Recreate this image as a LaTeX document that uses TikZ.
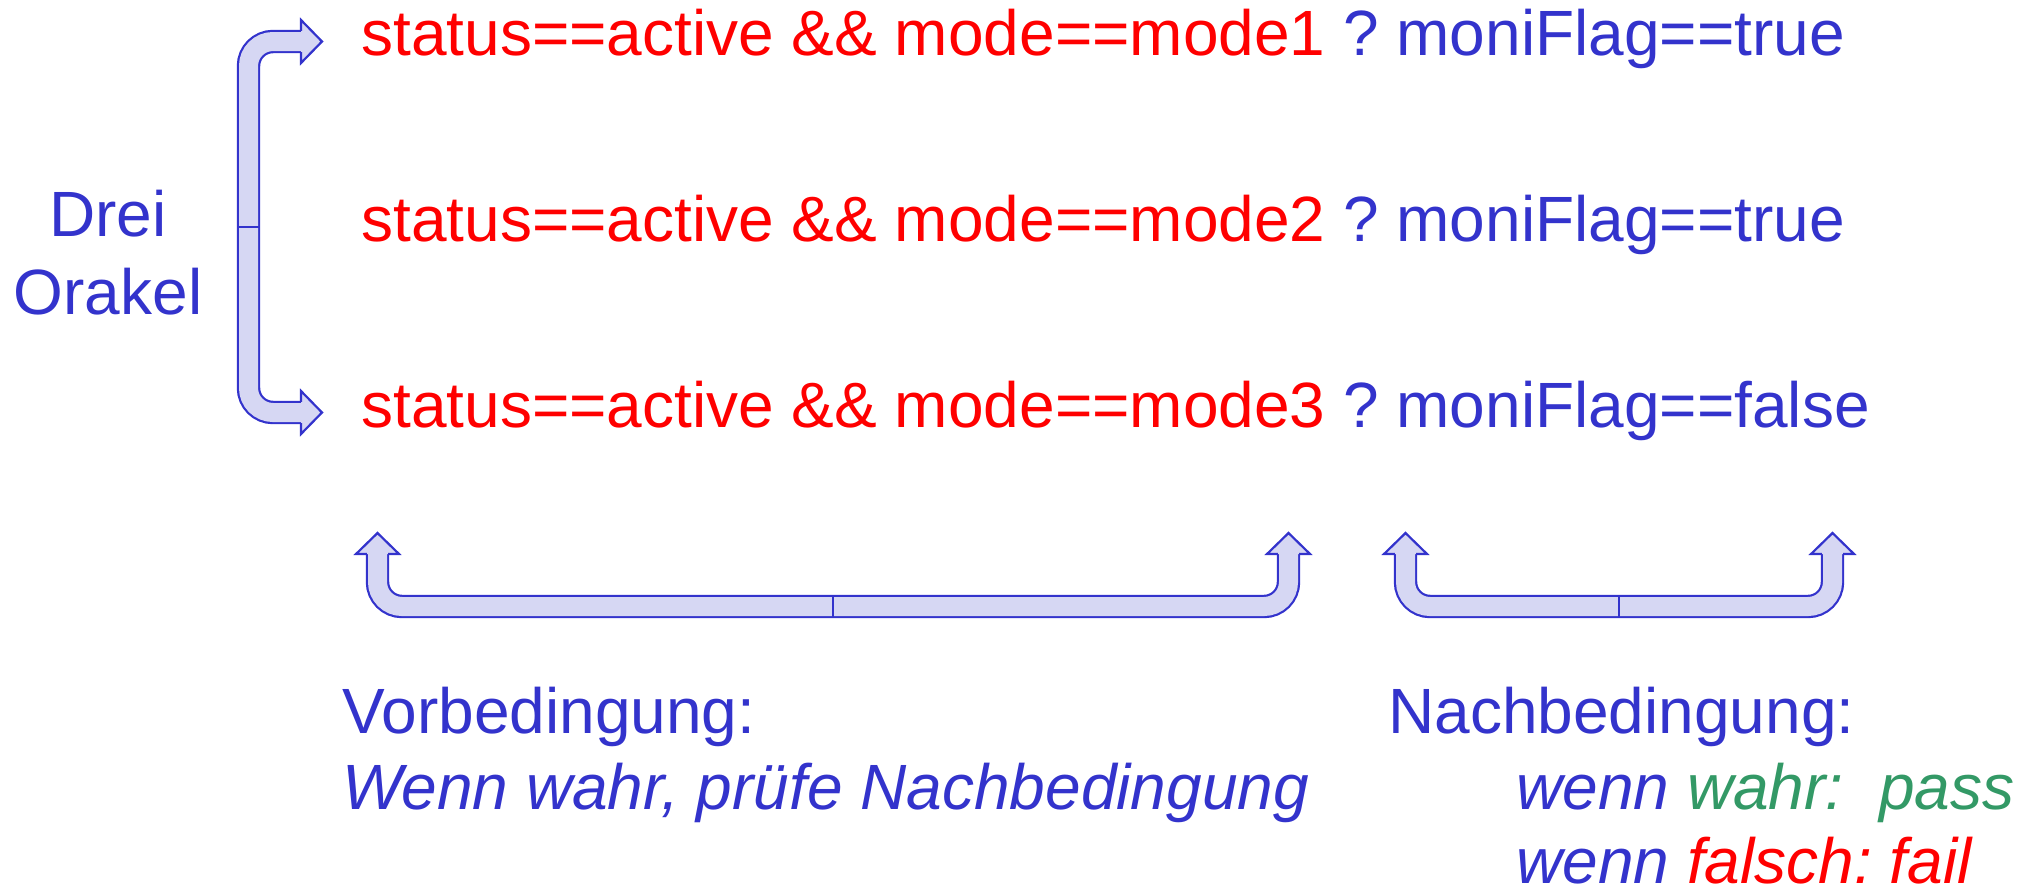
\documentclass[tikz,border=0pt]{standalone}
\usepackage{fontspec}
\setmainfont{Liberation Sans}
\definecolor{ink}{RGB}{51,51,204}
\definecolor{bandfill}{RGB}{214,215,243}
\definecolor{okgreen}{RGB}{51,153,102}
\definecolor{bad}{RGB}{255,0,0}

\tikzset{
  txt/.style={inner sep=0pt, anchor=base west, text=ink,
    font=\fontsize{32}{38}\selectfont\frenchspacing},
  band/.style={draw=ink, line width=1.1pt, double=bandfill,
    double distance=9.5pt, rounded corners=12.25pt, line cap=butt},
  edge line/.style={draw=ink, line width=1.1pt},
  arrowhead/.pic={
    \fill[bandfill] (-1.5,-9.6) rectangle (0.5,9.6);
    \fill[bandfill] (0,-21.5) -- (21,0) -- (0,21.5) -- cycle;
    \draw[edge line, line join=miter]
      (0,-10.6) -- (0,-21.5) -- (21,0) -- (0,21.5) -- (0,10.6);
  }
}

\begin{document}
\begin{tikzpicture}[x=0.5pt, y=-0.5pt]
  \useasboundingbox (0,0) rectangle (2038,889);

  % the three oracle lines
  \node[txt] (o1) at (361,55)
    {\color{bad}status==active \&\& mode==mode1 \color{ink}? moniFlag==true};
  \node[txt] (o2) at (361,241)
    {\color{bad}status==active \&\& mode==mode2 \color{ink}? moniFlag==true};
  \node[txt] (o3) at (361,427)
    {\color{bad}status==active \&\& mode==mode3 \color{ink}? moniFlag==false};

  % label on the left
  \node[txt, anchor=base] (drei) at (108,236) {Drei};
  \node[txt, anchor=base] (orakel) at (108,314) {Orakel};

  % explanations below
  \node[txt] (vor) at (342,733) {Vorbedingung:};
  \node[txt] (vorx) at (342,809) {\itshape Wenn wahr, prüfe Nachbedingung};
  \node[txt] (nach) at (1388,733) {Nachbedingung:};
  \node[txt] (pass) at (1516,809)
    {\itshape wenn \color{okgreen}wahr:\ \ pass};
  \node[txt] (fail) at (1516,883)
    {\itshape wenn \color{bad}falsch: fail};

  % left bracket from the label to the first and last line
  \coordinate (la) at (301,41.5);
  \coordinate (lb) at (301,412.5);
  \draw[band] (la) -- (248.5,41.5) -- (248.5,412.5) -- (lb);
  \draw[edge line] (238,227) -- (259,227);
  \pic at (la) {arrowhead};
  \pic at (lb) {arrowhead};

  % bracket under the precondition
  \coordinate (va) at (377.5,554);
  \coordinate (vb) at (1288.5,554);
  \draw[band] (va) -- (377.5,606.5) -- (1288.5,606.5) -- (vb);
  \draw[edge line] (833,596) -- (833,617);
  \pic[rotate=90] at (va) {arrowhead};
  \pic[rotate=90] at (vb) {arrowhead};

  % bracket under the postcondition
  \coordinate (na) at (1405.5,554);
  \coordinate (nb) at (1832.5,554);
  \draw[band] (na) -- (1405.5,606.5) -- (1832.5,606.5) -- (nb);
  \draw[edge line] (1619,596) -- (1619,617);
  \pic[rotate=90] at (na) {arrowhead};
  \pic[rotate=90] at (nb) {arrowhead};
\end{tikzpicture}
\end{document}
